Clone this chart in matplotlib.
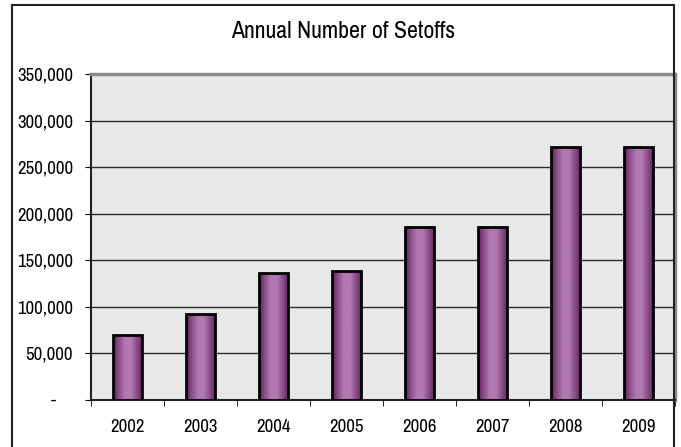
import matplotlib
matplotlib.use("Agg")
import matplotlib.pyplot as plt
import numpy as np
from matplotlib.colors import LinearSegmentedColormap
from matplotlib.lines import Line2D
from matplotlib.ticker import FuncFormatter, MultipleLocator
import logging
logging.getLogger("matplotlib.font_manager").setLevel(logging.ERROR)

years = ["2002", "2003", "2004", "2005", "2006", "2007", "2008", "2009"]
setoffs = [70000, 92000, 136000, 139000, 186000, 186000, 272000, 272000]
title = "Annual Number of Setoffs"

FONT = ["Liberation Sans Narrow", "Archivo Narrow", "Liberation Sans", "DejaVu Sans"]
plt.rcParams["font.family"] = FONT

W, H = 681, 447
fig = plt.figure(figsize=(W / 100, H / 100), dpi=100)
fig.patch.set_facecolor("white")

L, R, B, T = 91, 675, 400, 74
ax = fig.add_axes([L / W, 1 - B / H, (R - L) / W, (B - T) / H])
ax.set_facecolor("#E8E8E8")

x = np.arange(len(years))
width = 0.41
bars = ax.bar(x, setoffs, width=width, color="none", edgecolor="black", linewidth=2.0, zorder=4)

cmap = LinearSegmentedColormap.from_list(
    "purp", ["#5A1F5A", "#8E4F8E", "#B07AB0", "#B07AB0", "#8A4C8A", "#5E225E"])
grad = np.linspace(0, 1, 256).reshape(1, -1)
for b in bars:
    x0, y0 = b.get_x(), b.get_y()
    w, h = b.get_width(), b.get_height()
    im = ax.imshow(grad, cmap=cmap, aspect="auto", extent=[x0, x0 + w, y0, y0 + h],
                   zorder=3, interpolation="bilinear")
    im.set_clip_path(b)

ax.set_xlim(-0.5, len(years) - 0.5)
ax.set_ylim(0, 350000)
ax.yaxis.set_major_locator(MultipleLocator(50000))
ax.yaxis.set_major_formatter(FuncFormatter(lambda v, p: "-    " if v == 0 else f"{int(v):,}"))
ax.grid(axis="y", color="#2b2b2b", linewidth=1.0, zorder=1)
ax.set_axisbelow(True)

ax.set_xticks(x)
ax.set_xticklabels(years)
ax.set_xticks(np.arange(-0.5, len(years)), minor=True)
ax.tick_params(axis="x", which="major", length=0, pad=14, labelsize=13.5)
ax.tick_params(axis="x", which="minor", length=4, direction="out", color="black")
ax.tick_params(axis="y", length=4, direction="out", color="black", labelsize=13.5, pad=9)

for s in ["left", "bottom"]:
    ax.spines[s].set_color("#222222")
    ax.spines[s].set_linewidth(1.5)
ax.spines["top"].set_color("#8a8a8a")
ax.spines["top"].set_linewidth(2.5)
ax.spines["right"].set_color("#8a8a8a")
ax.spines["right"].set_linewidth(2.5)

fig.text(343 / W, 1 - 31 / H, title, ha="center", va="center", fontsize=17.2)

# outer frame
def fx(px):
    return px / W
def fy(py):
    return 1 - py / H
fig.add_artist(Line2D([fx(12), fx(12)], [fy(5), fy(H + 5)], color="#222222", linewidth=1.5))
fig.add_artist(Line2D([fx(12), fx(674)], [fy(5), fy(5)], color="#222222", linewidth=1.5))
fig.add_artist(Line2D([fx(674), fx(674)], [fy(5), fy(H + 5)], color="#222222", linewidth=1.5))

fig.savefig("out.png", dpi=100)
